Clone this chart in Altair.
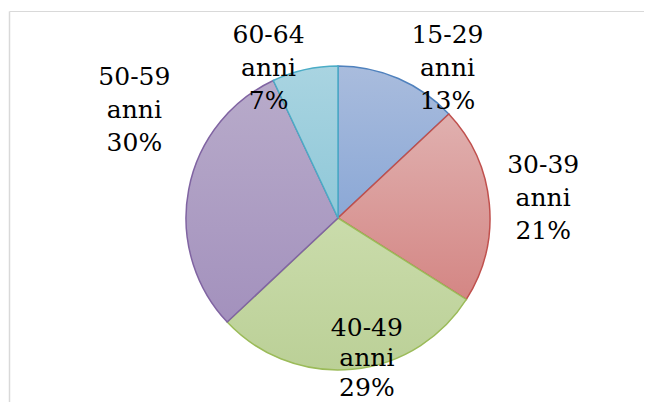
import math
import altair as alt
import pandas as pd

# ---- data ----
groups = ["15-29", "30-39", "40-49", "50-59", "60-64"]
shares = [13, 21, 29, 30, 7]

# ---- styling ----
fill_top = ["#a9bcdd", "#e0b0af", "#cadcab", "#b8abca", "#a9d4e1"]
fill_bottom = ["#8ba8d6", "#d48684", "#bbd097", "#a391bd", "#8fc8d8"]
edge = ["#4f81bd", "#c0504d", "#9bbb59", "#8064a2", "#4bacc6"]
label_dx = [34, 16, 11, -17, -28]
label_dy = [-9, -35, -79, -105, 2]
label_lh = [33, 33, 30, 33, 33]

W, H = 636, 394
CX, CY, R = 330, 210, 152
LABEL_R = 190

df = pd.DataFrame({"group": groups, "share": shares})
df["end"] = df["share"].cumsum()
df["start"] = df["end"] - df["share"]
df["mid"] = (df["start"] + df["end"]) / 2
df["label"] = df["group"] + "\nanni\n" + df["share"].astype(str) + "%"

theta_scale = alt.Scale(domain=[0, 100], range=[0, 2 * math.pi])
base = alt.Chart(df)

frame = alt.Chart(pd.DataFrame({"k": [0]}))
layers = [
    frame.mark_rule(color="#d9d9d9", strokeWidth=1.5).encode(
        x=alt.value(1.5), y=alt.value(3.5), y2=alt.value(H)
    ),
    frame.mark_rule(color="#d9d9d9", strokeWidth=1.2).encode(
        x=alt.value(1.5), x2=alt.value(W), y=alt.value(3.5)
    ),
]

for i, g in enumerate(groups):
    layers.append(
        base.transform_filter(alt.datum.group == g)
        .mark_arc(
            radius=R,
            stroke=edge[i],
            strokeWidth=1.5,
            fill=alt.Gradient(
                gradient="linear",
                x1=0, y1=0, x2=0, y2=1,
                stops=[
                    alt.GradientStop(color=fill_top[i], offset=0),
                    alt.GradientStop(color=fill_bottom[i], offset=1),
                ],
            ),
        )
        .encode(
            theta=alt.Theta("start:Q", scale=theta_scale),
            theta2="end:Q",
            x=alt.value(CX),
            y=alt.value(CY),
        )
    )

for i, g in enumerate(groups):
    layers.append(
        base.transform_filter(alt.datum.group == g)
        .mark_text(
            font="DejaVu Serif",
            fontSize=25,
            color="#000000",
            lineBreak="\n",
            lineHeight=label_lh[i],
            align="center",
            baseline="middle",
            dx=label_dx[i],
            dy=label_dy[i],
        )
        .encode(
            theta=alt.Theta("mid:Q", scale=theta_scale),
            radius=alt.value(LABEL_R),
            x=alt.value(CX),
            y=alt.value(CY),
            text="label:N",
        )
    )

chart = (
    alt.layer(*layers)
    .properties(width=W, height=H, padding=0, autosize=alt.AutoSizeParams(type="none"), background="white")
    .configure_view(stroke=None)
)

chart.save("out.html", embed_options={"renderer": "svg", "actions": False})
